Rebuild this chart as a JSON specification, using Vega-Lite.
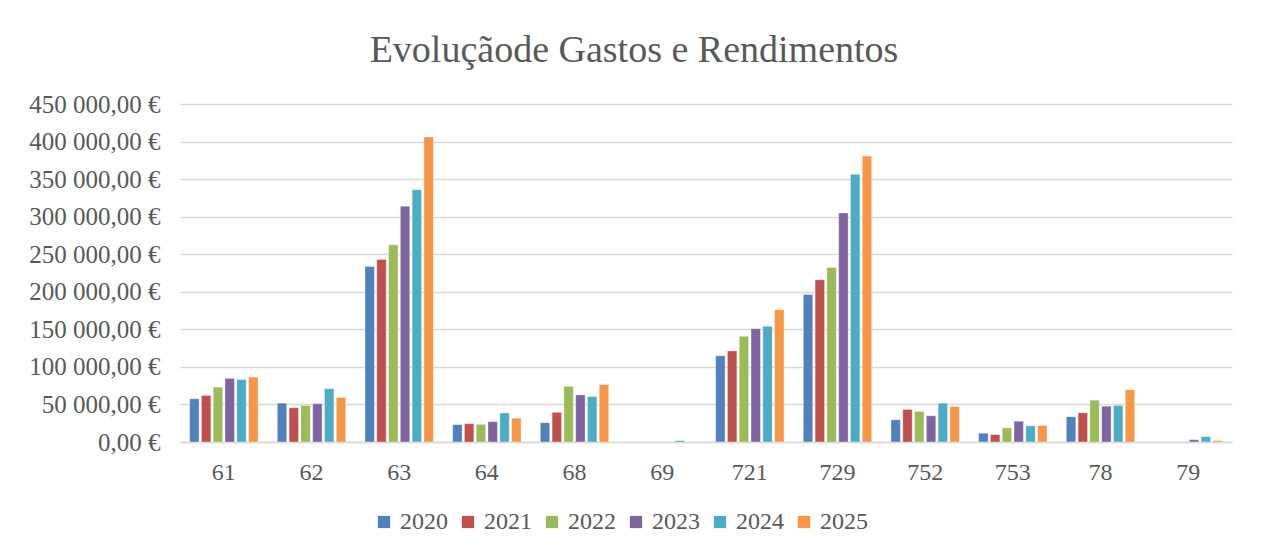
{
  "$schema": "https://vega.github.io/schema/vega-lite/v6.json",
  "width": 1052,
  "height": 338,
  "autosize": {"type": "none"},
  "padding": {"left": 180, "top": 104, "right": 29, "bottom": 112},
  "background": "white",
  "title": {
    "text": "Evoluçãode Gastos e Rendimentos",
    "font": "Liberation Serif",
    "fontSize": 38,
    "fontWeight": "normal",
    "color": "#595959",
    "anchor": "middle",
    "dx": -72,
    "offset": 22
  },
  "config": {
    "locale": {
      "number": {"decimal": ",", "thousands": " ", "grouping": [3], "currency": ["", " €"]}
    },
    "view": {"stroke": null},
    "font": "Liberation Serif"
  },
  "data": {
    "values": [
      {"conta": "61", "ano": "2020", "valor": 57600},
      {"conta": "61", "ano": "2021", "valor": 62000},
      {"conta": "61", "ano": "2022", "valor": 73000},
      {"conta": "61", "ano": "2023", "valor": 84700},
      {"conta": "61", "ano": "2024", "valor": 83300},
      {"conta": "61", "ano": "2025", "valor": 86400},
      {"conta": "62", "ano": "2020", "valor": 51700},
      {"conta": "62", "ano": "2021", "valor": 45600},
      {"conta": "62", "ano": "2022", "valor": 48700},
      {"conta": "62", "ano": "2023", "valor": 50900},
      {"conta": "62", "ano": "2024", "valor": 70900},
      {"conta": "62", "ano": "2025", "valor": 59300},
      {"conta": "63", "ano": "2020", "valor": 233600},
      {"conta": "63", "ano": "2021", "valor": 243000},
      {"conta": "63", "ano": "2022", "valor": 262500},
      {"conta": "63", "ano": "2023", "valor": 314000},
      {"conta": "63", "ano": "2024", "valor": 336000},
      {"conta": "63", "ano": "2025", "valor": 406000},
      {"conta": "64", "ano": "2020", "valor": 23100},
      {"conta": "64", "ano": "2021", "valor": 24400},
      {"conta": "64", "ano": "2022", "valor": 23500},
      {"conta": "64", "ano": "2023", "valor": 27100},
      {"conta": "64", "ano": "2024", "valor": 38700},
      {"conta": "64", "ano": "2025", "valor": 31600},
      {"conta": "68", "ano": "2020", "valor": 25700},
      {"conta": "68", "ano": "2021", "valor": 39500},
      {"conta": "68", "ano": "2022", "valor": 74100},
      {"conta": "68", "ano": "2023", "valor": 62700},
      {"conta": "68", "ano": "2024", "valor": 60400},
      {"conta": "68", "ano": "2025", "valor": 76400},
      {"conta": "69", "ano": "2024", "valor": 1800},
      {"conta": "721", "ano": "2020", "valor": 114700},
      {"conta": "721", "ano": "2021", "valor": 121300},
      {"conta": "721", "ano": "2022", "valor": 140700},
      {"conta": "721", "ano": "2023", "valor": 150900},
      {"conta": "721", "ano": "2024", "valor": 154000},
      {"conta": "721", "ano": "2025", "valor": 176000},
      {"conta": "729", "ano": "2020", "valor": 196500},
      {"conta": "729", "ano": "2021", "valor": 216000},
      {"conta": "729", "ano": "2022", "valor": 232400},
      {"conta": "729", "ano": "2023", "valor": 305000},
      {"conta": "729", "ano": "2024", "valor": 356400},
      {"conta": "729", "ano": "2025", "valor": 380700},
      {"conta": "752", "ano": "2020", "valor": 29600},
      {"conta": "752", "ano": "2021", "valor": 43300},
      {"conta": "752", "ano": "2022", "valor": 40700},
      {"conta": "752", "ano": "2023", "valor": 34900},
      {"conta": "752", "ano": "2024", "valor": 51700},
      {"conta": "752", "ano": "2025", "valor": 47300},
      {"conta": "753", "ano": "2020", "valor": 11700},
      {"conta": "753", "ano": "2021", "valor": 9900},
      {"conta": "753", "ano": "2022", "valor": 18800},
      {"conta": "753", "ano": "2023", "valor": 27700},
      {"conta": "753", "ano": "2024", "valor": 21500},
      {"conta": "753", "ano": "2025", "valor": 22000},
      {"conta": "78", "ano": "2020", "valor": 33600},
      {"conta": "78", "ano": "2021", "valor": 38900},
      {"conta": "78", "ano": "2022", "valor": 55700},
      {"conta": "78", "ano": "2023", "valor": 47700},
      {"conta": "78", "ano": "2024", "valor": 48700},
      {"conta": "78", "ano": "2025", "valor": 69600},
      {"conta": "79", "ano": "2023", "valor": 3100},
      {"conta": "79", "ano": "2024", "valor": 7100},
      {"conta": "79", "ano": "2025", "valor": 1800}
    ]
  },
  "mark": {"type": "bar", "stroke": "white", "strokeWidth": 0.6, "strokeOpacity": 0.6},
  "encoding": {
    "x": {
      "field": "conta",
      "type": "nominal",
      "sort": ["61", "62", "63", "64", "68", "69", "721", "729", "752", "753", "78", "79"],
      "scale": {"domain": ["61", "62", "63", "64", "68", "69", "721", "729", "752", "753", "78", "79"], "paddingInner": 0.22, "paddingOuter": 0.11},
      "axis": {
        "title": null,
        "labelAngle": 0,
        "labelFontSize": 24,
        "labelColor": "#595959",
        "labelPadding": 18,
        "ticks": false,
        "domainColor": "#d9d9d9",
        "domainWidth": 1.5,
        "grid": false
      }
    },
    "xOffset": {
      "field": "ano",
      "type": "nominal",
      "scale": {"paddingInner": 0.2}
    },
    "y": {
      "field": "valor",
      "type": "quantitative",
      "scale": {"domain": [0, 450000], "nice": false},
      "axis": {
        "title": null,
        "values": [0, 50000, 100000, 150000, 200000, 250000, 300000, 350000, 400000, 450000],
        "format": "$,.2f",
        "labelFontSize": 25,
        "labelColor": "#595959",
        "labelPadding": 20,
        "ticks": false,
        "domain": false,
        "gridColor": "#d9d9d9",
        "gridWidth": 1.5
      }
    },
    "color": {
      "field": "ano",
      "type": "nominal",
      "scale": {
        "domain": ["2020", "2021", "2022", "2023", "2024", "2025"],
        "range": ["#4F81BD", "#C0504D", "#9BBB59", "#8064A2", "#4BACC6", "#F79646"]
      },
      "legend": {
        "title": null,
        "orient": "none",
        "direction": "horizontal",
        "legendX": 192,
        "legendY": 406,
        "symbolType": "square",
        "symbolSize": 150,
        "symbolStrokeWidth": 0,
        "labelFontSize": 24,
        "labelColor": "#595959",
        "labelOffset": 4,
        "columnPadding": 8
      }
    }
  }
}
